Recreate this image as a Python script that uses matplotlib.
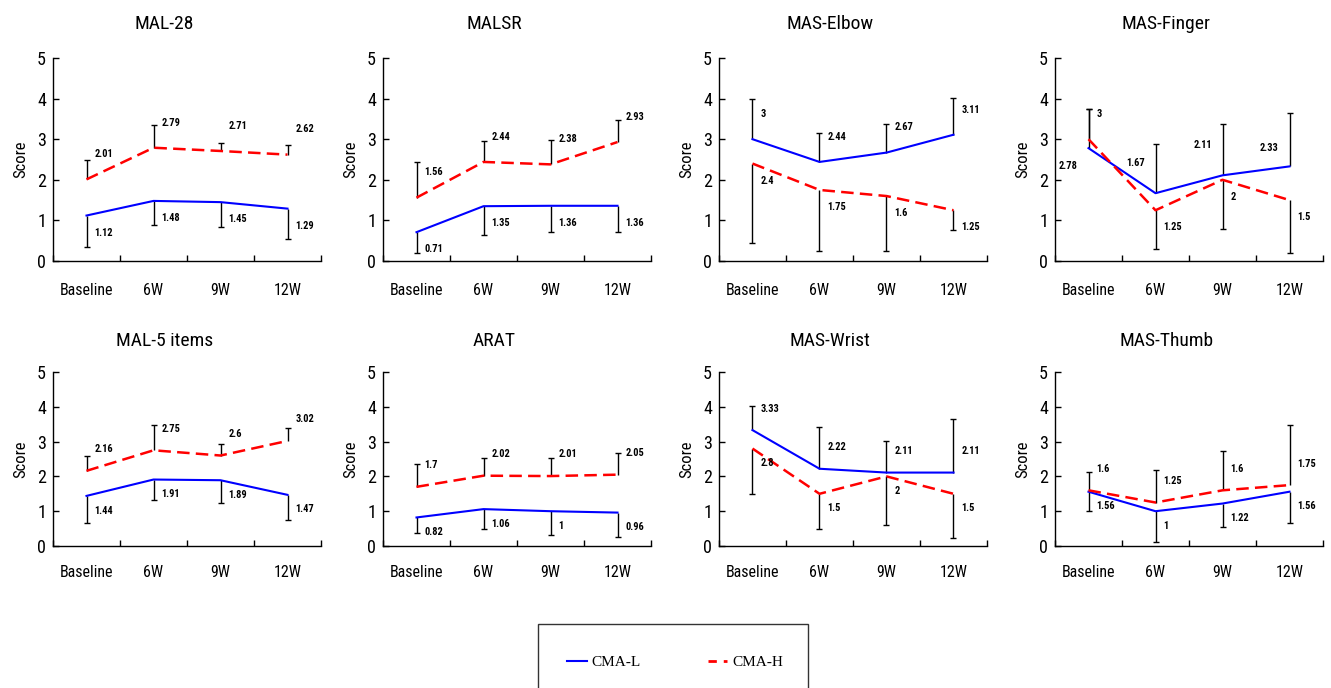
import numpy as np
import matplotlib
matplotlib.use('Agg')
import matplotlib.pyplot as plt
from matplotlib.patches import Rectangle
from matplotlib.lines import Line2D

plt.rcParams['font.family'] = ['Roboto Condensed', 'Liberation Sans', 'DejaVu Sans']

timepoints = ['Baseline', '6W', '9W', '12W']
titles = ['MAL-28', 'MALSR', 'MAS-Elbow', 'MAS-Finger',
          'MAL-5 items', 'ARAT', 'MAS-Wrist', 'MAS-Thumb']

# group means
cma_l = [
    [1.12, 1.48, 1.45, 1.29],
    [0.71, 1.35, 1.36, 1.36],
    [3, 2.44, 2.67, 3.11],
    [2.78, 1.67, 2.11, 2.33],
    [1.44, 1.91, 1.89, 1.47],
    [0.82, 1.06, 1, 0.96],
    [3.33, 2.22, 2.11, 2.11],
    [1.56, 1, 1.22, 1.56],
]
cma_h = [
    [2.01, 2.79, 2.71, 2.62],
    [1.56, 2.44, 2.38, 2.93],
    [2.4, 1.75, 1.6, 1.25],
    [3, 1.25, 2, 1.5],
    [2.16, 2.75, 2.6, 3.02],
    [1.7, 2.02, 2.01, 2.05],
    [2.8, 1.5, 2, 1.5],
    [1.6, 1.25, 1.6, 1.75],
]
# one-sided SD bars (positive = drawn upward, negative = downward)
sd_l = [
    [-0.78, -0.59, -0.62, -0.74],
    [-0.51, -0.71, -0.64, -0.64],
    [1.0, 0.72, 0.71, 0.90],
    [0.97, 1.21, 1.26, 1.32],
    [-0.79, -0.59, -0.65, -0.72],
    [-0.44, -0.57, -0.69, -0.69],
    [0.70, 1.19, 0.92, 1.54],
    [-0.54, -0.88, -0.67, -0.89],
]
sd_h = [
    [0.47, 0.56, 0.19, 0.23],
    [0.88, 0.52, 0.61, 0.55],
    [-1.95, -1.50, -1.35, -0.49],
    [0.75, -0.96, -1.21, -1.30],
    [0.43, 0.74, 0.32, 0.36],
    [0.65, 0.52, 0.51, 0.62],
    [-1.30, -1.00, -1.40, -1.28],
    [0.54, 0.94, 1.14, 1.72],
]

W, H = 1331, 688
fig = plt.figure(figsize=(W / 100, H / 100), dpi=100)

lefts = [53, 383, 719, 1055]
rows = [(58, 261), (372, 546)]

x = np.arange(len(timepoints))

def fmt(v):
    return ('%g' % v)

for i in range(8):
    r, c = divmod(i, 4)
    top, bot = rows[r]
    ax = fig.add_axes([lefts[c] / W, (H - bot) / H, 268 / W, (bot - top) / H])

    ax.plot(x, cma_l[i], color='blue', lw=1.5, zorder=3)
    ax.plot(x, cma_h[i], color='red', lw=1.8, dashes=(5, 2.5), zorder=3)

    for means, sds, color in [(cma_l[i], sd_l[i], 'blue'), (cma_h[i], sd_h[i], 'red')]:
        m = np.array(means)
        e = m + np.array(sds)
        ax.vlines(x, m, e, color='black', lw=1, zorder=2)
        ax.plot(x, e, ls='none', marker='_', ms=5, mew=1, color='black', zorder=2)
        for xi, mi, si in zip(x, m, sds):
            if i == 3 and color == 'blue':
                # left-side labels on MAS-Finger
                dy = -0.45 if xi == 0 else 0.75 if xi < 3 else 0.45
                ax.text(xi - 0.3, mi + dy, fmt(mi), ha='center', va='center',
                        fontsize=7.5, fontweight='bold')
                continue
            dy = 0.62 if si > 0 else -0.42
            ax.text(xi + 0.12, mi + dy, fmt(mi), ha='left', va='center',
                    fontsize=7.5, fontweight='bold')

    ax.set_xlim(-0.5, 3.5)
    ax.set_ylim(0, 5)
    ax.set_yticks(range(6))
    ax.set_xticks(np.arange(-0.5, 4, 1))
    ax.set_xticklabels([])
    ax.set_xticks(x, minor=True)
    ax.set_xticklabels(timepoints, minor=True)
    ax.tick_params(axis='x', which='major', direction='in', length=4, width=1)
    ax.tick_params(axis='x', which='minor', length=0, pad=16 if r == 0 else 14, labelsize=11.5)
    ax.tick_params(axis='y', direction='in', length=4, width=1, pad=5, labelsize=13)
    for s in ['top', 'right']:
        ax.spines[s].set_visible(False)
    for s in ['left', 'bottom']:
        ax.spines[s].set_linewidth(1)
    ax.set_ylabel('Score', fontsize=12, labelpad=6)
    ax.set_title(titles[i], fontsize=14, x=0.415, pad=21 if r == 0 else 19)

# legend box
fig.patches.append(Rectangle((538 / W, -0.02), 270 / W, (H - 624) / H + 0.02,
                             transform=fig.transFigure, fill=False,
                             edgecolor='#333333', lw=1, clip_on=False))
handles = [Line2D([], [], color='blue', lw=1.5),
           Line2D([], [], color='red', lw=2, dashes=(3, 2.5))]
fig.legend(handles, ['CMA-L', 'CMA-H'], loc='center', bbox_to_anchor=(0.507, (H - 662) / H),
           ncol=2, frameon=False, handlelength=1.3, handletextpad=0.3, columnspacing=4.4,
           prop={'family': ['Liberation Serif', 'DejaVu Serif'], 'size': 11})

plt.savefig('out.png', dpi=100)
